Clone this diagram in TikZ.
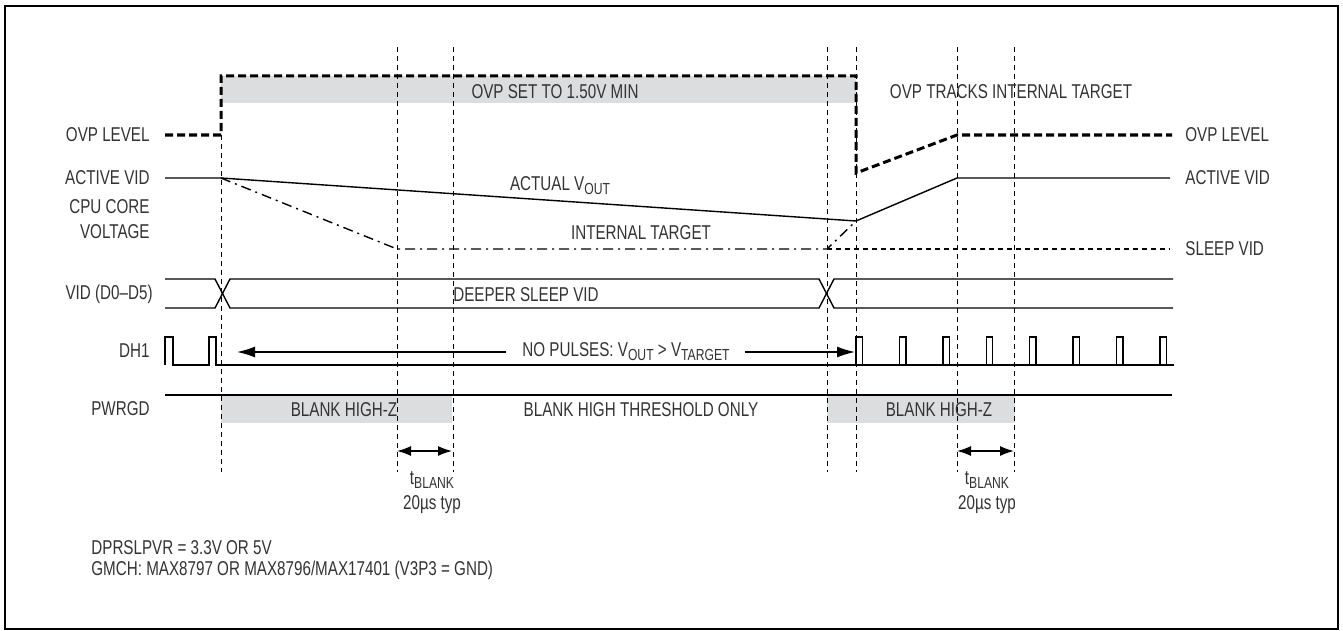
\documentclass[tikz,border=0pt]{standalone}
\usepackage{fontspec}
\setmainfont{Liberation Sans}[FakeStretch=0.76]
\usetikzlibrary{arrows.meta}
\definecolor{blankgray}{HTML}{DCDDDF}
\definecolor{inkgray}{HTML}{333333}
\newcommand{\lowr}[1]{\raisebox{-2pt}{\fontsize{8}{9}\selectfont #1}}

\begin{document}
\begin{tikzpicture}[x=0.5pt,y=-0.5pt,line join=miter,>={Latex[length=9pt,width=5.5pt]}]
	\tikzset{every node/.style={font=\fontsize{10}{12}\selectfont,text=inkgray,inner sep=0pt},
		guide/.style={dash pattern=on 2.5pt off 2pt,line width=0.45pt},
		ovpline/.style={dash pattern=on 4pt off 2pt,line width=1.5pt},
		sig/.style={line width=0.7pt},
		blankbox/.style={fill=blankgray,draw=none}}
	\useasboundingbox (0,0) rectangle (1343,631);
	\draw[line width=1pt] (5,6) rectangle (1338,629);
	% shaded blanking regions
	\fill[blankbox] (221,76) rectangle (856,103);
	\fill[blankbox] (221,395) rectangle (452,423);
	\fill[blankbox] (827,395) rectangle (1015,423);
	% time markers
	\draw[guide] (221,135)--(221,472);
	\foreach \x in {397,453,827,856,957,1014}
	\draw[guide] (\x,47)--(\x,472);
	% OVP level
	\draw[ovpline] (165,135)--(221,135)--(221,76)--(856,76)--(856,173)--(957,135)--(1172,135);
	% CPU core voltage
	\draw[sig] (165,178)--(221,178)--(856,221)--(957,178)--(1170,178);
	\draw[sig,dash pattern=on 5pt off 2.5pt on 1pt off 2.5pt] (221,178)--(397,249)--(827,249)--(856,221);
	\draw[guide,line width=0.6pt] (827,249)--(1170,249);
	% VID bus
	\draw[sig] (165,279)--(215,279)--(230,308)--(819,308)--(834,279)--(1173,279);
	\draw[sig] (165,308)--(215,308)--(230,279)--(819,279)--(834,308)--(1173,308);
	% DH1
	\draw[sig] (165,365)--(165,337)--(173,337)--(173,365)--(209,365)--(209,337)--(216,337)--(216,365)--(1174,365);
	\foreach \k in {0,...,7}
	\draw[sig] ({856+43.4*\k},365)--++(0,-28)--++(6.5,0)--++(0,28);
	% PWRGD
	\draw[sig] (165,395)--(1172,395);
	% left labels
	\node[anchor=east] (ovpL) at (150,135) {OVP LEVEL};
	\node[anchor=east] (actL) at (150,178) {ACTIVE VID};
	\node[anchor=east] (cpuL) at (150,207) {CPU CORE};
	\node[anchor=east] (voltL) at (150,232) {VOLTAGE};
	\node[anchor=east] (vidL) at (153,294) {VID (D0–D5)};
	\node[anchor=east] (dhL) at (150,351) {DH1};
	\node[anchor=east] (pgL) at (150,409) {PWRGD};
	% right labels
	\node[anchor=west] (ovpR) at (1185,135) {OVP LEVEL};
	\node[anchor=west] (actR) at (1185,178) {ACTIVE VID};
	\node[anchor=west] (sleepR) at (1185,249) {SLEEP VID};
	% inner labels
	\node (ovpSet) at (555,92) {OVP SET TO 1.50V MIN};
	\node (ovpTrk) at (1011,92) {OVP TRACKS INTERNAL TARGET};
	\node (vout) at (560,186) {ACTUAL V\lowr{OUT}};
	\node (itgt) at (641,233) {INTERNAL TARGET};
	\node (deeper) at (526,295) {DEEPER SLEEP VID};
	\node (nopulse) at (626,352) {NO PULSES: V\lowr{OUT} > V\lowr{TARGET}};
	\draw[sig,->] (nopulse.west)++(-16,0) -- (237,352);
	\draw[sig,->] (nopulse.east)++(15,0) -- (855,352);
	\node (bhz1) at (344,410) {BLANK HIGH-Z};
	\node (bth) at (641,410) {BLANK HIGH THRESHOLD ONLY};
	\node (bhz2) at (939,410) {BLANK HIGH-Z};
	% blanking time
	\draw[sig,<->,>={Latex[length=7pt,width=5pt]}] (397,451)--(452,451);
	\draw[sig,<->,>={Latex[length=7pt,width=5pt]}] (957,451)--(1014,451);
	\node (tb1) at (432,480) {t\lowr{BLANK}};
	\node (typ1) at (432,505) {20µs typ};
	\node (tb2) at (987,480) {t\lowr{BLANK}};
	\node (typ2) at (987,505) {20µs typ};
	% notes
	\node[anchor=west] (note1) at (91,548) {DPRSLPVR = 3.3V OR 5V};
	\node[anchor=west] (note2) at (91,570) {GMCH: MAX8797 OR MAX8796/MAX17401 (V3P3 = GND)};
\end{tikzpicture}
\end{document}
